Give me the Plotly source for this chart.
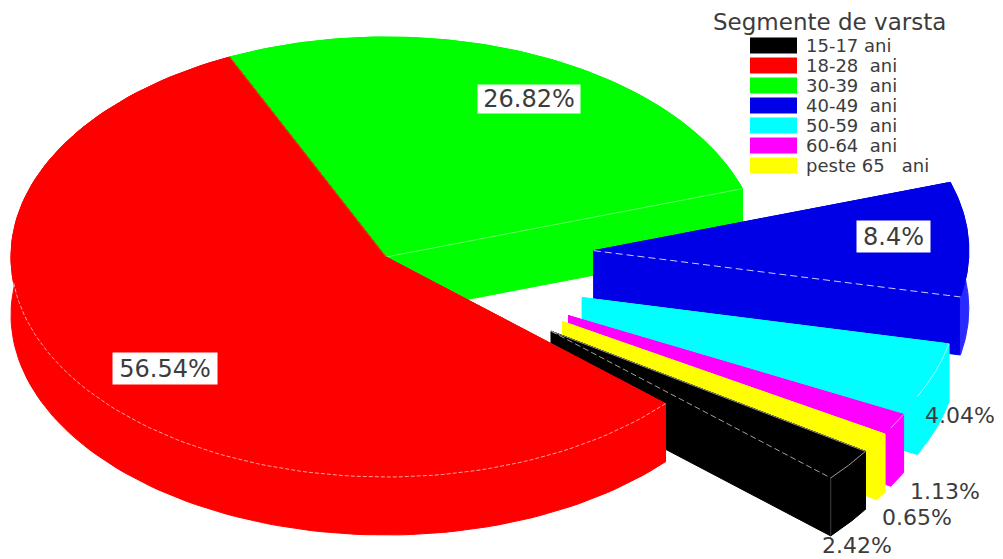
import numpy as np
import plotly.graph_objects as go

# Age segments, listed clockwise around the pie
categories = ["15-17 ani", "18-28  ani", "30-39  ani", "40-49  ani", "50-59  ani", "60-64  ani", "peste 65   ani"]
shares = [2.42, 56.54, 26.82, 8.4, 4.04, 1.13, 0.65]
colors = ["#000000", "#ff0000", "#00ff00", "#0000e6", "#00ffff", "#ff00ff", "#ffff00"]
rim_colors = ["#000000", "#ff0000", "#00ff00", "#2a2aff", "#00ffff", "#ff00ff", "#ffff00"]
pull = [0.555, 0, 0, 0.555, 0.555, 0.555, 0.555]
rim_lines = ["#9a9a9a", "#ffa0a0", None, None, "#a0ffff", "#ffa0ff", None]
draw_order = [2, 3, 4, 5, 6, 0, 1]

# Tilted-disc projection of the pie
CX, CY, RX, RY, DEPTH = 386, 257, 375, 220, 58
START_DEG = 326.9


def project(deg, radius=1.0):
    t = np.radians(deg)
    return radius * RX * np.cos(t), -radius * RY * np.sin(t)


def polygon(fig, xs, ys, fill):
    fig.add_trace(go.Scatter(
        x=list(xs), y=list(ys), mode="lines", fill="toself", fillcolor=fill,
        line=dict(color=fill, width=1), hoverinfo="skip", showlegend=False,
    ))


def stroke(fig, xs, ys, color, width=1, dash="solid"):
    fig.add_trace(go.Scatter(
        x=list(xs), y=list(ys), mode="lines", hoverinfo="skip", showlegend=False,
        line=dict(color=color, width=width, dash=dash),
    ))


fig = go.Figure()

# Slice boundaries run clockwise from the start angle
ends = START_DEG - np.cumsum(shares) * 3.6
starts = np.concatenate(([START_DEG], ends[:-1]))

for i in draw_order:
    a0, a1 = starts[i], ends[i]
    mid = (a0 + a1) / 2
    ox, oy = project(mid, pull[i])
    ax, ay = CX + ox, CY + oy
    arc = np.linspace(a0, a1, 120)
    dx, dy = project(arc)
    rx, ry = ax + dx, ay + dy

    # Cut faces, outer wall, then the top face
    for k in (0, -1):
        polygon(fig, [ax, rx[k], rx[k], ax, ax],
                [ay, ry[k], ry[k] + DEPTH, ay + DEPTH, ay], colors[i])
    polygon(fig, np.r_[rx, rx[::-1], rx[0]],
            np.r_[ry, ry[::-1] + DEPTH, ry[0]], rim_colors[i])
    polygon(fig, np.r_[ax, rx, ax], np.r_[ay, ry, ay], colors[i])

    # Light edge highlights on the solid
    if rim_lines[i]:
        keep = np.sin(np.radians(arc)) < -0.1
        dash = "4px,2px" if i == 1 else "solid"
        stroke(fig, rx[keep], ry[keep], rim_lines[i], dash=dash)

    if i == 0:  # black slice: front edge and vertical corner
        stroke(fig, [ax, rx[0]], [ay, ry[0]], "#909090")
        stroke(fig, [ax, rx[-1]], [ay, ry[-1]], "#a0a0a0", dash="6px,3px")
        stroke(fig, [rx[-1], rx[-1]], [ry[-1], ry[-1] + DEPTH], "#404040")
    if i == 1:  # seam against the green slice
        stroke(fig, [ax, rx[-1]], [ay, ry[-1]], "#a87000")
    if i == 2:  # highlight along the green cut
        stroke(fig, [ax, rx[-1]], [ay, ry[-1]], "#66ff66")
    if i == 3:  # dashed front edge of the blue slice
        stroke(fig, [ax, rx[-1]], [ay, ry[-1]], "#ccccff", dash="7px,4px")

# Percentage labels: boxed ones sit on their slice, small slices are labelled outside
label_font = dict(family="DejaVu Sans, sans-serif", color="#3c3c3c")
label_centres = [(857, 545), (165, 368), (529, 99), (893, 236), (960, 415), (945, 491), (917, 517)]
box_sizes = [None, (104, 31), (102, 28), (73, 31), None, None, None]
for value, (lx, ly), box in zip(shares, label_centres, box_sizes):
    extra = dict(width=box[0], height=box[1], bgcolor="#ffffff") if box else {}
    fig.add_annotation(
        x=lx, y=ly, text=f"{value}%", showarrow=False, borderpad=0,
        font=dict(size=24 if box else 22, **label_font), **extra,
    )

# Legend drawn as a swatch column under a heading
LEGEND_X0, LEGEND_X1, LEGEND_Y0, LEGEND_STEP = 750, 797, 45.5, 20
fig.add_annotation(x=713, y=22, xanchor="left", xshift=-2, text="Segmente de varsta", showarrow=False,
                   font=dict(size=23, **label_font))
for n, (name, color) in enumerate(zip(categories, colors)):
    y = LEGEND_Y0 + n * LEGEND_STEP
    fig.add_shape(type="rect", x0=LEGEND_X0, x1=LEGEND_X1, y0=y - 8, y1=y + 8,
                  fillcolor=color, line=dict(width=0), layer="above")
    fig.add_annotation(x=804, y=y, xanchor="left", text=name.replace(" ", "&nbsp;"), showarrow=False,
                       font=dict(size=18, **label_font))

fig.update_layout(
    width=1003, height=559, margin=dict(l=0, r=0, t=0, b=0),
    paper_bgcolor="#ffffff", plot_bgcolor="#ffffff", showlegend=False,
    xaxis=dict(range=[0, 1003], visible=False, fixedrange=True),
    yaxis=dict(range=[559, 0], visible=False, fixedrange=True),
)

fig.write_html("out.html", config={"displayModeBar": False})
